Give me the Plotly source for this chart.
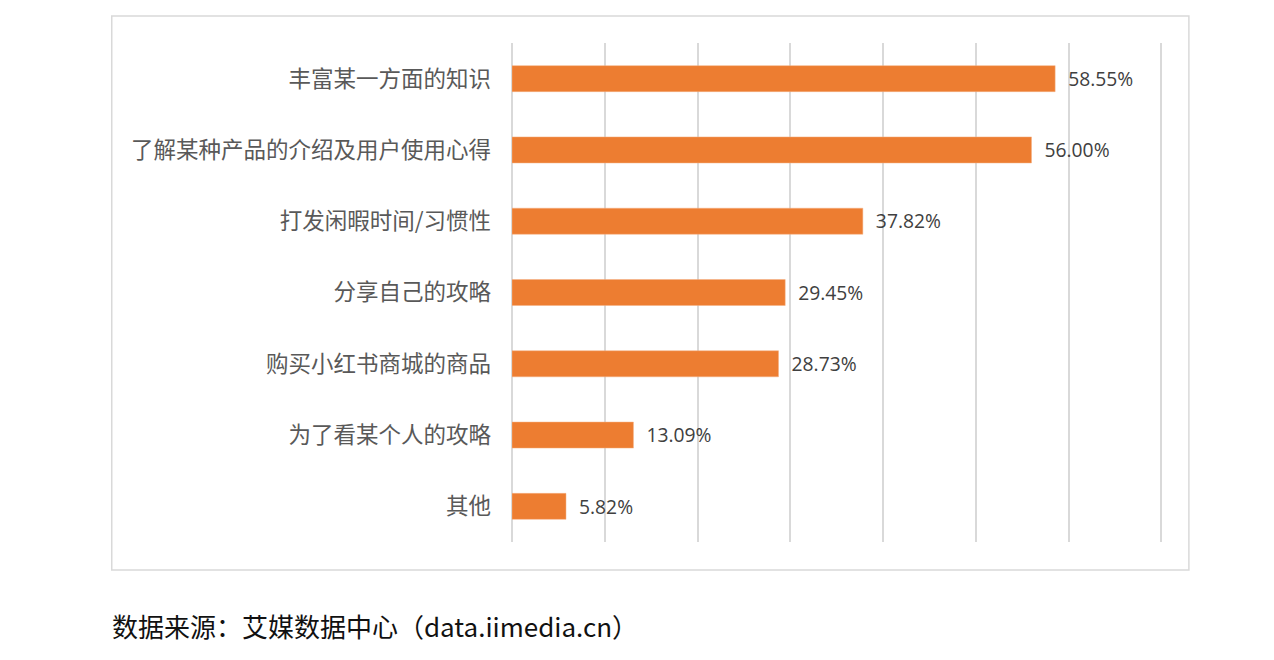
import plotly.graph_objects as go

# data
categories = ["丰富某一方面的知识", "了解某种产品的介绍及用户使用心得", "打发闲暇时间/习惯性",
              "分享自己的攻略", "购买小红书商城的商品", "为了看某个人的攻略", "其他"]
values = [58.55, 56.00, 37.82, 29.45, 28.73, 13.09, 5.82]
source_note = "数据来源：艾媒数据中心（data.iimedia.cn）"

fig = go.Figure()
fig.add_trace(go.Bar(
    y=categories,
    x=values,
    orientation="h",
    marker_color="#ED7D31",
    marker_line=dict(color="#F4B183", width=0.5),
    text=["  %.2f%%" % v for v in values],
    textposition="outside",
    textfont=dict(family="Open Sans, Noto Sans", size=20, color="#404040"),
    cliponaxis=False,
    hoverinfo="skip",
))

# page is drawn with an 8px body offset, so margins are trimmed by that much
fig.update_layout(
    width=1274, height=660,
    paper_bgcolor="white", plot_bgcolor="white",
    margin=dict(l=504, r=116, t=35, b=126),
    bargap=0.635,
    showlegend=False,
    font=dict(family="Noto Sans CJK SC", color="#595959"),
)
# range a bit past 70 so the last gridline is drawn too
fig.update_xaxes(range=[0, 70.5], tick0=0, dtick=10, showgrid=True, gridcolor="#D9D9D9", gridwidth=1.5,
                 showticklabels=False, zeroline=True, zerolinecolor="#D9D9D9", zerolinewidth=1.5,
                 showline=False, fixedrange=True)
fig.update_yaxes(autorange="reversed", showgrid=False, showline=False, ticks="",
                 tickfont=dict(family="Noto Sans CJK SC", size=22.5, color="#595959"),
                 ticklabelstandoff=20, fixedrange=True)

# frame around the chart
fig.add_shape(type="rect", xref="paper", yref="paper",
              x0=-0.612, x1=1.035, y0=-0.056, y1=1.054,
              line=dict(color="#D9D9D9", width=1.5), fillcolor="rgba(0,0,0,0)")

# source line below the frame
fig.add_annotation(text=source_note, xref="paper", yref="paper",
                   x=-0.614, y=-0.168, xanchor="left", yanchor="middle", showarrow=False,
                   font=dict(family="Noto Sans CJK SC", size=26, color="#111111"))

fig.write_html("out.html")
